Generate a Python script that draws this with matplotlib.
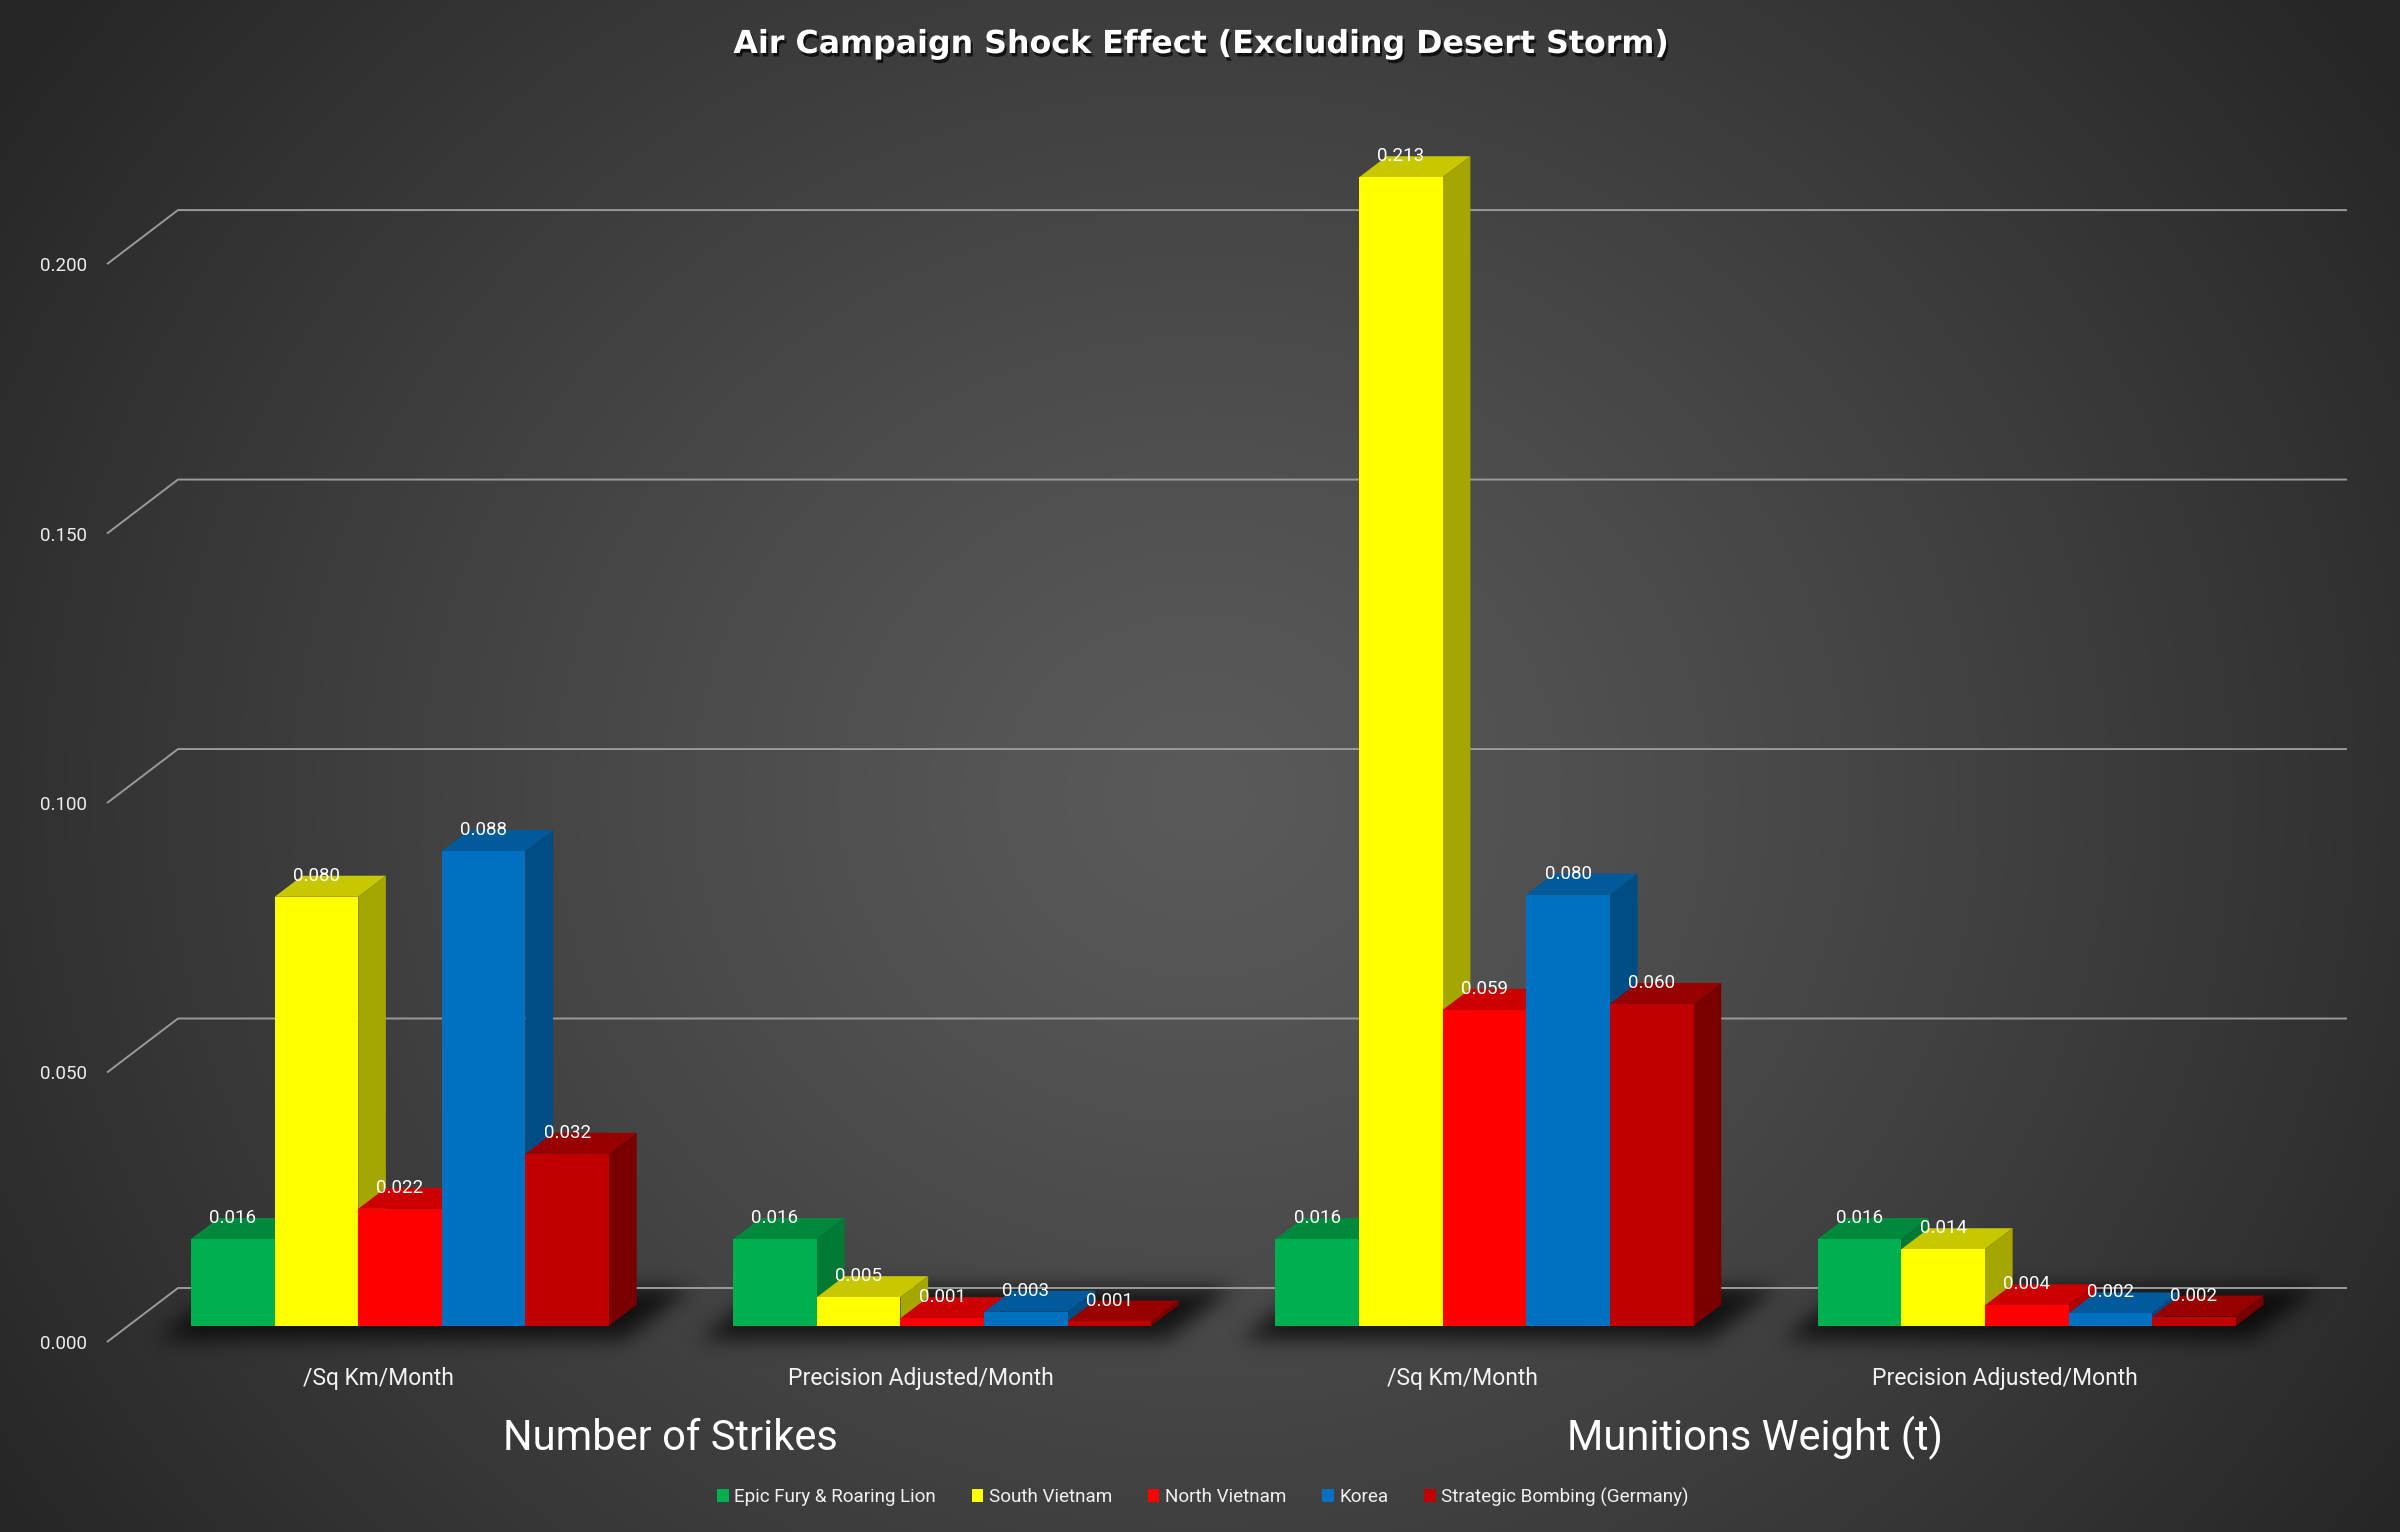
import numpy as np
import matplotlib
matplotlib.use("Agg")
import matplotlib.pyplot as plt
from matplotlib.patches import Polygon, Patch
from matplotlib.path import Path
import matplotlib.patheffects as pe

# ---------------- data ----------------
title = "Air Campaign Shock Effect (Excluding Desert Storm)"
categories = ["/Sq Km/Month", "Precision Adjusted/Month", "/Sq Km/Month", "Precision Adjusted/Month"]
group_labels = ["Number of Strikes", "Munitions Weight (t)"]
series_names = ["Epic Fury & Roaring Lion", "South Vietnam", "North Vietnam", "Korea",
                "Strategic Bombing (Germany)"]
epic_fury = [0.0161, 0.0161, 0.0161, 0.0161]
south_vietnam = [0.0796, 0.0053, 0.2131, 0.0142]
north_vietnam = [0.0217, 0.0014, 0.0586, 0.0038]
korea = [0.0881, 0.0026, 0.0800, 0.0023]
strategic_bombing = [0.0319, 0.0008, 0.0597, 0.0017]
yticks = [0.0, 0.05, 0.10, 0.15, 0.20]

series_values = [epic_fury, south_vietnam, north_vietnam, korea, strategic_bombing]

# ---------------- style ----------------
front_colors = ["#00B050", "#FFFF00", "#FF0000", "#0070C0", "#C00000"]
top_colors = ["#00893C", "#C8C800", "#CC0000", "#005A9C", "#980000"]
side_colors = ["#007A35", "#A6A600", "#B00000", "#004D86", "#780000"]

FONT = ["Roboto", "DejaVu Sans"]
plt.rcParams["font.family"] = FONT

W, H, DPI = 2400, 1532, 100
fig = plt.figure(figsize=(W / DPI, H / DPI), dpi=DPI)

# background radial gradient
bg = fig.add_axes([0, 0, 1, 1], zorder=0)
bg.set_xlim(0, W)
bg.set_ylim(0, H)
bg.axis("off")
yy, xx = np.mgrid[0:H, 0:W]
cx, cy = 0.5 * W, 0.48 * H
r = np.sqrt(((xx - cx) / (0.60 * W)) ** 2 + ((yy - cy) / (0.85 * H)) ** 2)
r = np.clip(r, 0, 1) ** 1.2
c0, c1 = 0x5A / 255, 0x26 / 255
g = c0 + (c1 - c0) * r
bg_img = np.dstack([g, g, g])
bg.imshow(bg_img, origin="lower", extent=(0, W, 0, H), aspect="auto", zorder=0,
          interpolation="bilinear")

# main axes = front plane of the 3-D box
ax = fig.add_axes([107 / W, 190 / H, 2169 / W, 1342 / H], zorder=1)
ax.set_xlim(-0.5, len(categories) - 0.5)
ax.set_ylim(0, 0.249)
ax.axis("off")
ax.patch.set_alpha(0)

DX, DY = 0.1309, 0.01002      # full depth offset (category units, value units)
F0, DEPTH = 0.30, 0.39         # bar front position and bar depth (fraction of box depth)
MARGIN, BW = 0.1156, 0.1542    # group margin and bar width (category units)
x0, x1 = ax.get_xlim()

# gridlines (side wall + back wall)
grid_color = "#9A9A9A"
for v in yticks:
    ax.plot([x0, x0 + DX, x1 + DX], [v, v + DY, v + DY], color=grid_color, lw=1.4,
            clip_on=False, zorder=1, solid_capstyle="butt")
    ax.annotate(f"{v:.3f}", xy=(x0, v), xytext=(-14.5, -5), textcoords="offset points",
                ha="right", va="baseline", fontsize=13.5, color="#EDEDED")

# bars
base = F0 * DY
for i in range(len(categories)):
    for j, vals in enumerate(series_values):
        v = vals[i]
        xl = i - 0.5 + MARGIN + j * BW + F0 * DX
        z = 2 + j * 0.1
        ddx, ddy = DEPTH * DX, DEPTH * DY
        top = Polygon([(xl, base + v), (xl + BW, base + v), (xl + BW + ddx, base + v + ddy),
                       (xl + ddx, base + v + ddy)], closed=True, facecolor=top_colors[j],
                      edgecolor="none", zorder=z, clip_on=False)
        side = Polygon([(xl + BW, base), (xl + BW, base + v), (xl + BW + ddx, base + v + ddy),
                        (xl + BW + ddx, base + ddy)], closed=True, facecolor=side_colors[j],
                       edgecolor="none", zorder=z, clip_on=False)
        ax.add_patch(top)
        ax.add_patch(side)
        ax.bar(xl, v, width=BW, bottom=base, align="edge", color=front_colors[j],
               linewidth=0, zorder=z + 0.05, clip_on=False)
        ax.annotate(f"{v:.3f}", xy=(xl + BW / 2, base + v), xytext=(0, 11.5),
                    textcoords="offset points", ha="center", va="baseline",
                    fontsize=13.5, color="white", zorder=10)

# category labels
for i, cat in enumerate(categories):
    ax.annotate(cat, xy=(i, 0), xytext=(0, -31), textcoords="offset points",
                ha="center", va="baseline", fontsize=16.5, color="#F2F2F2")

# group labels
for k, gl in enumerate(group_labels):
    ax.annotate(gl, xy=(2 * k + 0.5 + F0 * DX, 0), xytext=(0, -78), textcoords="offset points",
                ha="center", va="baseline", fontsize=30, color="white")

# soft shadows under each group, computed from the data geometry
def blur1d(a, rr, axis):
    pad = [(0, 0), (0, 0)]
    pad[axis] = (rr + 1, rr)
    p = np.pad(a, pad, mode="constant")
    c = np.cumsum(p, axis=axis)
    n = a.shape[axis]
    hi = np.take(c, np.arange(2 * rr + 1, 2 * rr + 1 + n), axis=axis)
    lo = np.take(c, np.arange(0, n), axis=axis)
    return (hi - lo) / (2 * rr + 1)

mask = np.zeros((H, W))
pts = np.column_stack([xx.ravel() + 0.5, yy.ravel() + 0.5])
nser = len(series_values)
for i in range(len(categories)):
    gl_ = i - 0.5 + MARGIN - 0.03
    gr_ = i - 0.5 + MARGIN + nser * BW + 0.06
    d0, d1 = 0.05, 1.0
    poly = [(gl_ + d0 * DX, d0 * DY), (gr_ + d0 * DX, d0 * DY),
            (gr_ + d1 * DX, d1 * DY), (gl_ + d1 * DX, d1 * DY)]
    disp = ax.transData.transform(poly)
    inside = Path(disp).contains_points(pts).reshape(H, W)
    mask[inside] = 1.0
for _ in range(3):
    mask = blur1d(mask, 9, 0)
    mask = blur1d(mask, 9, 1)
shadow = np.zeros((H, W, 4))
shadow[..., 3] = np.clip(mask, 0, 1) * 0.72
bg.imshow(shadow, origin="lower", extent=(0, W, 0, H), aspect="auto", zorder=1,
          interpolation="bilinear")

# title
fig.text(0.5, (H - 53) / H, title, ha="center", va="baseline", fontsize=22.8,
         fontweight="bold", color="white", family=["DejaVu Sans"],
         path_effects=[pe.withSimplePatchShadow(offset=(1.5, -2.5), shadow_rgbFace="black",
                                                alpha=0.7)])

# legend
handles = [Patch(facecolor=c, edgecolor="none") for c in front_colors]
leg = fig.legend(handles, series_names, loc="center", bbox_to_anchor=(1203 / W, 35 / H),
                 ncol=len(series_names), frameon=False, fontsize=13.6,
                 handlelength=0.6, handleheight=0.65, handletextpad=0.3,
                 columnspacing=1.9, labelcolor="#F0F0F0")

fig.savefig("out.png", dpi=DPI)
